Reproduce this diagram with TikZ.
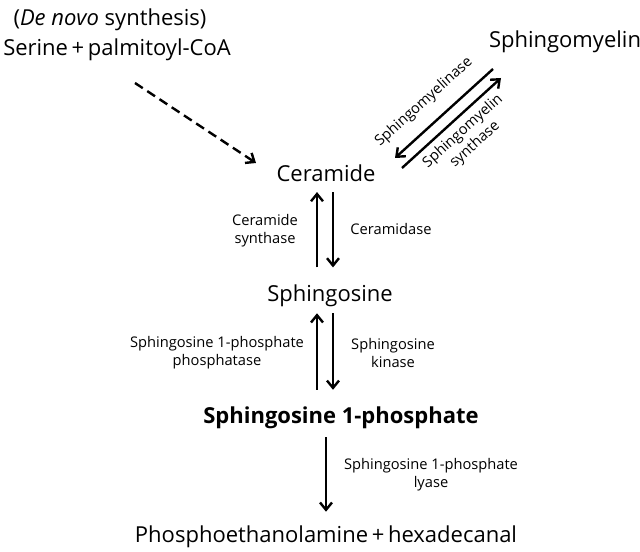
\documentclass[tikz,border=0pt]{standalone}
\usepackage{fontspec}
\setmainfont{Open Sans}
\usetikzlibrary{arrows.meta}

\begin{document}
\begin{tikzpicture}[x=0.75pt, y=-0.75pt,
  big/.style={font=\fontsize{16.5}{19}\selectfont, inner sep=1pt},
  enz/.style={font=\fontsize{11}{13.5}\selectfont, align=center, inner sep=0pt},
  arr/.style={line width=1.8pt, -{Straight Barb[length=5.5pt,width=9pt]}}]

  \useasboundingbox (0,0) rectangle (640,552);

  \node[big] (denovo) at (110,20) {(\textit{De novo} synthesis)};
  \node[big] (serine) at (117,50) {Serine\,+\,palmitoyl-CoA};
  \node[big] (sm) at (565,42) {Sphingomyelin};
  \node[big] (cer) at (326,173) {Ceramide};
  \node[big] (sph) at (330,296) {Sphingosine};
  \node[big, font=\fontsize{16.5}{19}\selectfont\bfseries] (s1p) at (341,418) {Sphingosine 1-phosphate};
  \node[big] (prod) at (326,537) {Phosphoethanolamine\,+\,hexadecanal};

  \coordinate (colL) at (317,0);
  \coordinate (colR) at (333,0);
  \coordinate (dstart) at (135,83);
  \coordinate (dend) at (256,163);
  \coordinate (smA) at (493,69);
  \coordinate (cerA) at (395,158);
  \coordinate (cerB) at (402,168);
  \coordinate (smB) at (501,78);

  \draw[arr, dash pattern=on 7pt off 4pt] (dstart) -- (dend);

  \draw[arr] (smA) -- (cerA);
  \draw[arr] (cerB) -- (smB);
  \node[enz, rotate=42] (smase) at (424,102) {Sphingomyelinase};
  \node[enz, rotate=42] (smsyn) at (469,138) {Sphingomyelin\\synthase};

  \draw[arr, shorten <=12pt, shorten >=6.75pt] (colL |- sph.north) -- (colL |- cer.south);
  \draw[arr, shorten <=6.75pt, shorten >=12pt] (colR |- cer.south) -- (colR |- sph.north);
  \node[enz] (cersyn) at (265,231) {Ceramide\\synthase};
  \node[enz] (cdase) at (391,229) {Ceramidase};

  \draw[arr, shorten <=11.7pt, shorten >=3.5pt] (colL |- s1p.north) -- (colL |- sph.south);
  \draw[arr, shorten <=3.5pt, shorten >=11.7pt] (colR |- sph.south) -- (colR |- s1p.north);
  \node[enz] (spp) at (217,353) {Sphingosine 1-phosphate\\phosphatase};
  \node[enz] (sphk) at (393,353) {Sphingosine\\kinase};

  \draw[arr, shorten <=5pt, shorten >=9.5pt] (s1p.south -| cer) -- (prod.north -| cer);
  \node[enz] (lyase) at (431,475) {Sphingosine 1-phosphate\\lyase};

\end{tikzpicture}
\end{document}
